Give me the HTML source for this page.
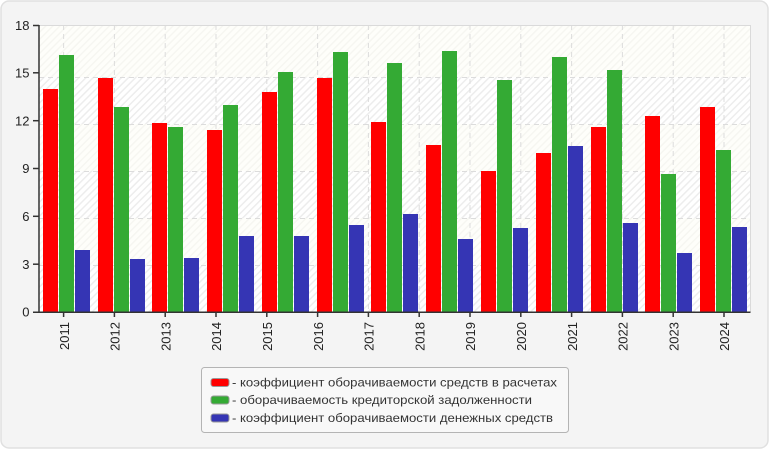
<!DOCTYPE html>
<html><head><meta charset="utf-8"><style>
html,body{margin:0;padding:0;background:#fff;}
svg{display:block;font-family:"Liberation Sans","DejaVu Sans",sans-serif;}
</style></head><body>
<svg width="770" height="450" viewBox="0 0 770 450" xmlns="http://www.w3.org/2000/svg">
<defs>
<pattern id="h1" width="5" height="5" patternUnits="userSpaceOnUse" patternTransform="rotate(45)">
<rect width="5" height="5" fill="#ffffff"/><rect width="1.5" height="5" fill="#ededed"/>
</pattern>
<pattern id="h2" width="5" height="5" patternUnits="userSpaceOnUse" patternTransform="rotate(45)">
<rect width="5" height="5" fill="#fefefa"/><rect width="1.4" height="5" fill="#f6f6f1"/>
</pattern>
</defs>
<rect x="1" y="1" width="767" height="447" rx="8" ry="8" fill="#f4f4f4" stroke="#e0e0e0" stroke-width="1.5"/>
<rect x="39" y="25" width="711" height="52" fill="url(#h2)"/>
<rect x="39" y="77" width="711" height="47" fill="url(#h1)"/>
<rect x="39" y="124" width="711" height="47" fill="url(#h2)"/>
<rect x="39" y="171" width="711" height="47" fill="url(#h1)"/>
<rect x="39" y="218" width="711" height="47" fill="url(#h2)"/>
<rect x="39" y="265" width="711" height="47" fill="url(#h1)"/>
<g stroke="#dcdcdc" stroke-width="1" stroke-dasharray="5,4" fill="none">
<line x1="39" y1="77.5" x2="750" y2="77.5"/>
<line x1="39" y1="124.5" x2="750" y2="124.5"/>
<line x1="39" y1="171.5" x2="750" y2="171.5"/>
<line x1="39" y1="218.5" x2="750" y2="218.5"/>
<line x1="39" y1="265.5" x2="750" y2="265.5"/>
<line x1="63.6" y1="25" x2="63.6" y2="312"/>
<line x1="114.4" y1="25" x2="114.4" y2="312"/>
<line x1="165.2" y1="25" x2="165.2" y2="312"/>
<line x1="216" y1="25" x2="216" y2="312"/>
<line x1="266.8" y1="25" x2="266.8" y2="312"/>
<line x1="317.6" y1="25" x2="317.6" y2="312"/>
<line x1="368.4" y1="25" x2="368.4" y2="312"/>
<line x1="419.2" y1="25" x2="419.2" y2="312"/>
<line x1="470" y1="25" x2="470" y2="312"/>
<line x1="520.8" y1="25" x2="520.8" y2="312"/>
<line x1="571.6" y1="25" x2="571.6" y2="312"/>
<line x1="622.4" y1="25" x2="622.4" y2="312"/>
<line x1="673.2" y1="25" x2="673.2" y2="312"/>
<line x1="724" y1="25" x2="724" y2="312"/>
</g>
<polyline points="39,25.5 750.5,25.5 750.5,312" fill="none" stroke="#dadada" stroke-width="1"/>
<g>
<rect x="43" y="89" width="15" height="223" fill="#ff0000"/><rect x="59" y="55" width="15" height="257" fill="#34aa34"/><rect x="75" y="250" width="15" height="62" fill="#3535b4"/>
<rect x="98" y="78" width="15" height="234" fill="#ff0000"/><rect x="114" y="107" width="15" height="205" fill="#34aa34"/><rect x="130" y="259" width="15" height="53" fill="#3535b4"/>
<rect x="152" y="123" width="15" height="189" fill="#ff0000"/><rect x="168" y="127" width="15" height="185" fill="#34aa34"/><rect x="184" y="258" width="15" height="54" fill="#3535b4"/>
<rect x="207" y="130" width="15" height="182" fill="#ff0000"/><rect x="223" y="105" width="15" height="207" fill="#34aa34"/><rect x="239" y="236" width="15" height="76" fill="#3535b4"/>
<rect x="262" y="92" width="15" height="220" fill="#ff0000"/><rect x="278" y="72" width="15" height="240" fill="#34aa34"/><rect x="294" y="236" width="15" height="76" fill="#3535b4"/>
<rect x="317" y="78" width="15" height="234" fill="#ff0000"/><rect x="333" y="52" width="15" height="260" fill="#34aa34"/><rect x="349" y="225" width="15" height="87" fill="#3535b4"/>
<rect x="371" y="122" width="15" height="190" fill="#ff0000"/><rect x="387" y="63" width="15" height="249" fill="#34aa34"/><rect x="403" y="214" width="15" height="98" fill="#3535b4"/>
<rect x="426" y="145" width="15" height="167" fill="#ff0000"/><rect x="442" y="51" width="15" height="261" fill="#34aa34"/><rect x="458" y="239" width="15" height="73" fill="#3535b4"/>
<rect x="481" y="171" width="15" height="141" fill="#ff0000"/><rect x="497" y="80" width="15" height="232" fill="#34aa34"/><rect x="513" y="228" width="15" height="84" fill="#3535b4"/>
<rect x="536" y="153" width="15" height="159" fill="#ff0000"/><rect x="552" y="57" width="15" height="255" fill="#34aa34"/><rect x="568" y="146" width="15" height="166" fill="#3535b4"/>
<rect x="591" y="127" width="15" height="185" fill="#ff0000"/><rect x="607" y="70" width="15" height="242" fill="#34aa34"/><rect x="623" y="223" width="15" height="89" fill="#3535b4"/>
<rect x="645" y="116" width="15" height="196" fill="#ff0000"/><rect x="661" y="174" width="15" height="138" fill="#34aa34"/><rect x="677" y="253" width="15" height="59" fill="#3535b4"/>
<rect x="700" y="107" width="15" height="205" fill="#ff0000"/><rect x="716" y="150" width="15" height="162" fill="#34aa34"/><rect x="732" y="227" width="15" height="85" fill="#3535b4"/>
</g>
<g stroke="#333" stroke-width="1.5" fill="none">
<line x1="39" y1="25" x2="39" y2="312.5"/>
<line x1="33" y1="312.3" x2="750.5" y2="312.3"/>
<line x1="33" y1="25.5" x2="39" y2="25.5"/>
<line x1="33" y1="72.8" x2="39" y2="72.8"/>
<line x1="33" y1="120.7" x2="39" y2="120.7"/>
<line x1="33" y1="168.5" x2="39" y2="168.5"/>
<line x1="33" y1="216.3" x2="39" y2="216.3"/>
<line x1="33" y1="264.2" x2="39" y2="264.2"/>
</g>
<g stroke="#333" stroke-width="1.5">
<line x1="63.6" y1="312" x2="63.6" y2="317"/>
<line x1="114.4" y1="312" x2="114.4" y2="317"/>
<line x1="165.2" y1="312" x2="165.2" y2="317"/>
<line x1="216" y1="312" x2="216" y2="317"/>
<line x1="266.8" y1="312" x2="266.8" y2="317"/>
<line x1="317.6" y1="312" x2="317.6" y2="317"/>
<line x1="368.4" y1="312" x2="368.4" y2="317"/>
<line x1="419.2" y1="312" x2="419.2" y2="317"/>
<line x1="470" y1="312" x2="470" y2="317"/>
<line x1="520.8" y1="312" x2="520.8" y2="317"/>
<line x1="571.6" y1="312" x2="571.6" y2="317"/>
<line x1="622.4" y1="312" x2="622.4" y2="317"/>
<line x1="673.2" y1="312" x2="673.2" y2="317"/>
<line x1="724" y1="312" x2="724" y2="317"/>
</g>
<g font-size="13" fill="#222" text-anchor="end">
<text x="29.5" y="30">18</text>
<text x="29.5" y="77.5">15</text>
<text x="29.5" y="125.4">12</text>
<text x="29.5" y="173.2">9</text>
<text x="29.5" y="221">6</text>
<text x="29.5" y="268.9">3</text>
<text x="29.5" y="316.7">0</text>
</g>
<g font-size="13" fill="#222" text-anchor="end">
<text transform="translate(68.8,322) rotate(-90)">2011</text>
<text transform="translate(119.6,322) rotate(-90)">2012</text>
<text transform="translate(170.4,322) rotate(-90)">2013</text>
<text transform="translate(221.2,322) rotate(-90)">2014</text>
<text transform="translate(272,322) rotate(-90)">2015</text>
<text transform="translate(322.8,322) rotate(-90)">2016</text>
<text transform="translate(373.6,322) rotate(-90)">2017</text>
<text transform="translate(424.4,322) rotate(-90)">2018</text>
<text transform="translate(475.2,322) rotate(-90)">2019</text>
<text transform="translate(526,322) rotate(-90)">2020</text>
<text transform="translate(576.8,322) rotate(-90)">2021</text>
<text transform="translate(627.6,322) rotate(-90)">2022</text>
<text transform="translate(678.4,322) rotate(-90)">2023</text>
<text transform="translate(729.2,322) rotate(-90)">2024</text>
</g>
<rect x="201.5" y="367.5" width="367" height="65" rx="3" ry="3" fill="#f8f8f8" stroke="#b4b4b4" stroke-width="1"/>
<rect x="211" y="378.5" width="18" height="8" rx="2.5" fill="#ff0000" stroke="#999" stroke-width="1"/>
<rect x="211" y="396" width="18" height="8" rx="2.5" fill="#34aa34" stroke="#999" stroke-width="1"/>
<rect x="211" y="414" width="18" height="8" rx="2.5" fill="#3535b4" stroke="#999" stroke-width="1"/>
<g font-size="12" fill="#333">
<text x="232" y="386.5" textLength="325" lengthAdjust="spacingAndGlyphs">- коэффициент оборачиваемости средств в расчетах</text>
<text x="232" y="404" textLength="300" lengthAdjust="spacingAndGlyphs">- оборачиваемость кредиторской задолженности</text>
<text x="232" y="422" textLength="321" lengthAdjust="spacingAndGlyphs">- коэффициент оборачиваемости денежных средств</text>
</g>
</svg>
</body></html>
